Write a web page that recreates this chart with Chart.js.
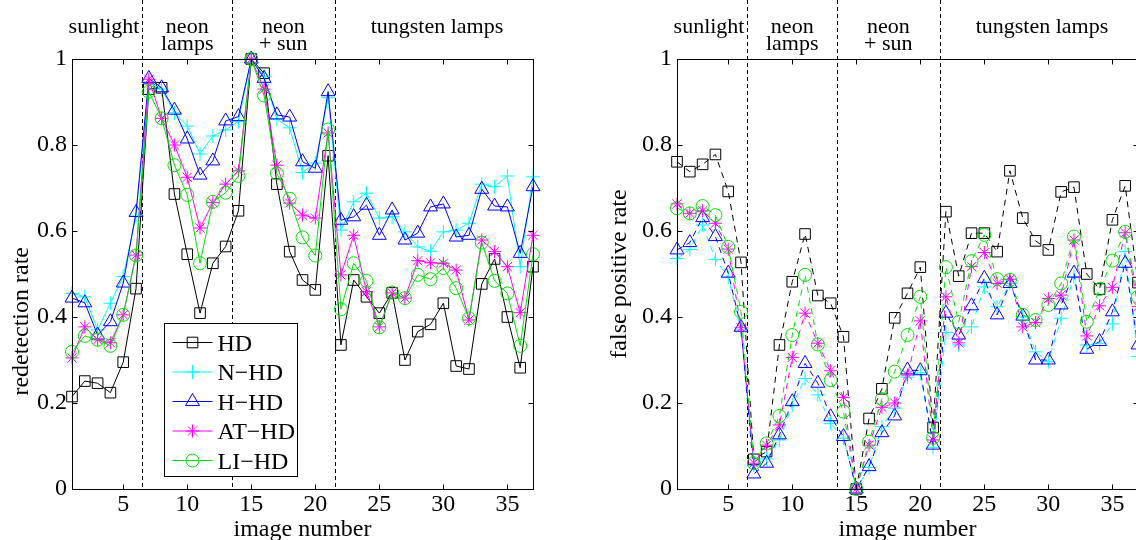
<!DOCTYPE html>
<html>
<head>
<meta charset="utf-8">
<script src="https://cdn.jsdelivr.net/npm/chart.js@4.4.0/dist/chart.umd.min.js"></script>
<style>
  html, body { margin: 0; padding: 0; background: #fff; overflow: hidden; }
  #wrap { position: relative; width: 1136px; height: 540px; overflow: hidden; }
  canvas { position: absolute; top: 0; }
  #chart-redet { left: 0; }
  #chart-fp { left: 600px; }
</style>
</head>
<body>
<div id="wrap">
  <canvas id="chart-redet" width="560" height="540" style="width:560px;height:540px"></canvas>
  <canvas id="chart-fp" width="560" height="540" style="width:560px;height:540px"></canvas>
</div>
<script>
// image numbers on the x axis
const imageNumbers = [1, 2, 3, 4, 5, 6, 7, 8, 9, 10, 11, 12, 13, 14, 15, 16, 17, 18, 19, 20,
  21, 22, 23, 24, 25, 26, 27, 28, 29, 30, 31, 32, 33, 34, 35, 36, 37];
const xTicks = [5, 10, 15, 20, 25, 30, 35];
const yTicks = [0, 0.2, 0.4, 0.6, 0.8, 1];

const seriesNames = ['HD', 'N\u2212HD', 'H\u2212HD', 'AT\u2212HD', 'LI\u2212HD'];

// lighting conditions, split at the dashed lines
const regionLabels = [['sunlight'], ['neon', 'lamps'], ['neon', '+ sun'], ['tungsten lamps']];
const regionBounds = [0.5, 6.5, 13.5, 21.5, 37.5];

// redetection rate (left)
const redetHD = [0.215, 0.251, 0.246, 0.224, 0.295, 0.466, 0.93, 0.933, 0.686, 0.546, 0.409, 0.525, 0.564, 0.647, 1.0, 0.967, 0.709, 0.552, 0.486, 0.463, 0.775, 0.335, 0.486, 0.447, 0.409, 0.456, 0.3, 0.366, 0.383, 0.432, 0.286, 0.279, 0.477, 0.535, 0.4, 0.282, 0.517];
const redetNHD = [0.455, 0.447, 0.37, 0.432, 0.494, 0.635, 0.945, 0.93, 0.875, 0.844, 0.779, 0.821, 0.835, 0.855, 1.0, 0.96, 0.86, 0.84, 0.736, 0.758, 0.91, 0.602, 0.668, 0.688, 0.63, 0.633, 0.598, 0.563, 0.553, 0.598, 0.602, 0.618, 0.709, 0.703, 0.728, 0.517, 0.726];
const redetHHD = [0.444, 0.433, 0.358, 0.389, 0.479, 0.643, 0.955, 0.933, 0.881, 0.814, 0.73, 0.763, 0.856, 0.866, 1.0, 0.955, 0.87, 0.865, 0.761, 0.746, 0.924, 0.625, 0.633, 0.66, 0.59, 0.649, 0.579, 0.595, 0.656, 0.663, 0.586, 0.59, 0.697, 0.658, 0.656, 0.548, 0.703];
const redetATHD = [0.305, 0.377, 0.347, 0.34, 0.405, 0.544, 0.953, 0.862, 0.8, 0.725, 0.607, 0.666, 0.709, 0.74, 1.0, 0.93, 0.753, 0.665, 0.637, 0.63, 0.828, 0.498, 0.59, 0.459, 0.377, 0.456, 0.444, 0.531, 0.526, 0.525, 0.509, 0.393, 0.579, 0.552, 0.517, 0.41, 0.59];
const redetLIHD = [0.319, 0.356, 0.347, 0.333, 0.405, 0.543, 0.924, 0.862, 0.753, 0.684, 0.525, 0.668, 0.689, 0.728, 1.0, 0.915, 0.734, 0.675, 0.585, 0.543, 0.836, 0.418, 0.525, 0.484, 0.376, 0.457, 0.444, 0.498, 0.488, 0.514, 0.467, 0.397, 0.573, 0.484, 0.455, 0.333, 0.546];

// false positive rate (right)
const fpHD = [0.761, 0.738, 0.755, 0.778, 0.692, 0.527, 0.069, 0.087, 0.335, 0.482, 0.593, 0.45, 0.432, 0.354, 0.0, 0.164, 0.233, 0.398, 0.455, 0.516, 0.143, 0.645, 0.495, 0.595, 0.595, 0.552, 0.74, 0.63, 0.577, 0.556, 0.691, 0.702, 0.5, 0.465, 0.626, 0.705, 0.48];
const fpNHD = [0.536, 0.557, 0.614, 0.534, 0.492, 0.37, 0.055, 0.07, 0.114, 0.195, 0.257, 0.219, 0.152, 0.118, 0.0, 0.05, 0.145, 0.188, 0.26, 0.27, 0.097, 0.364, 0.335, 0.377, 0.47, 0.424, 0.478, 0.4, 0.319, 0.296, 0.397, 0.494, 0.335, 0.339, 0.384, 0.552, 0.308];
const fpHHD = [0.556, 0.573, 0.631, 0.587, 0.502, 0.376, 0.035, 0.06, 0.126, 0.203, 0.292, 0.246, 0.168, 0.122, 0.0, 0.052, 0.131, 0.17, 0.277, 0.275, 0.102, 0.409, 0.358, 0.426, 0.49, 0.405, 0.478, 0.402, 0.3, 0.3, 0.428, 0.502, 0.325, 0.343, 0.412, 0.525, 0.335];
const fpATHD = [0.663, 0.641, 0.647, 0.618, 0.558, 0.375, 0.06, 0.102, 0.149, 0.306, 0.409, 0.339, 0.275, 0.213, 0.0, 0.102, 0.19, 0.2, 0.265, 0.391, 0.114, 0.447, 0.34, 0.517, 0.55, 0.478, 0.488, 0.377, 0.387, 0.443, 0.451, 0.579, 0.356, 0.426, 0.469, 0.596, 0.424];
const fpLIHD = [0.653, 0.641, 0.658, 0.637, 0.563, 0.412, 0.06, 0.106, 0.17, 0.358, 0.498, 0.336, 0.253, 0.18, 0.0, 0.11, 0.209, 0.273, 0.358, 0.447, 0.119, 0.516, 0.388, 0.53, 0.591, 0.488, 0.486, 0.405, 0.393, 0.428, 0.478, 0.587, 0.389, 0.465, 0.531, 0.598, 0.447];

const seriesColors = ['#000000', '#00ffff', '#0000ff', '#ff00ff', '#00e000'];
const seriesMarkers = ['rect', 'cross', 'triangle', 'star', 'circle'];
const markerRadius = [7.5, 7, 8, 6.5, 6.5];

const FONT = "'Liberation Serif', 'DejaVu Serif', serif";
const font24 = { family: FONT, size: 24, lineHeight: 1 };

// box, inward ticks, dashed separators, region labels, y title and (optional) legend
const framePlugin = {
  id: 'frame',
  beforeDatasetsDraw(chart) {
    const { ctx, chartArea: a, scales: { x } } = chart;
    ctx.save();
    ctx.strokeStyle = '#000';
    ctx.lineWidth = 1;
    ctx.setLineDash([4, 3]);
    regionBounds.slice(1, -1).forEach((b) => {
      const px = Math.round(x.getPixelForValue(b)) + 0.5;
      ctx.beginPath();
      ctx.moveTo(px, 0);
      ctx.lineTo(px, a.bottom);
      ctx.stroke();
    });
    ctx.restore();
  },
  afterDraw(chart, args, opts) {
    const { ctx, chartArea: a, scales: { x, y } } = chart;
    ctx.save();
    ctx.strokeStyle = '#000';
    ctx.lineWidth = 1;
    ctx.setLineDash([]);
    const L = Math.round(a.left) + 0.5, R = Math.round(a.right) + 0.5;
    const T = Math.round(a.top) + 0.5, B = Math.round(a.bottom) + 0.5;
    ctx.strokeRect(L, T, R - L, B - T);
    ctx.beginPath();
    xTicks.forEach((v) => {
      const px = Math.round(x.getPixelForValue(v)) + 0.5;
      ctx.moveTo(px, B); ctx.lineTo(px, B - 5);
      ctx.moveTo(px, T); ctx.lineTo(px, T + 5);
    });
    yTicks.forEach((v) => {
      const py = Math.round(y.getPixelForValue(v)) + 0.5;
      ctx.moveTo(L, py); ctx.lineTo(L + 5, py);
      ctx.moveTo(R, py); ctx.lineTo(R - 5, py);
    });
    ctx.stroke();

    // region labels above the plot
    ctx.fillStyle = '#000';
    ctx.font = '22px ' + FONT;
    ctx.textAlign = 'center';
    ctx.textBaseline = 'alphabetic';
    regionLabels.forEach((lines, i) => {
      const cx = x.getPixelForValue((regionBounds[i] + regionBounds[i + 1]) / 2);
      lines.forEach((t, k) => ctx.fillText(t, cx, 33 + k * 17));
    });

    // y axis title
    ctx.save();
    ctx.font = '24px ' + FONT;
    ctx.textBaseline = 'middle';
    ctx.translate(opts.titleX, y.getPixelForValue(opts.titleAt));
    ctx.rotate(-Math.PI / 2);
    ctx.fillText(opts.yTitle, 0, 0);
    ctx.restore();

    if (opts.legend) {
      const bx = Math.round(a.left + 92) + 0.5, by = Math.round(a.top + 264) + 0.5;
      const bw = 133, bh = 153;
      ctx.fillStyle = '#fff';
      ctx.fillRect(bx, by, bw, bh);
      ctx.strokeStyle = '#000';
      ctx.strokeRect(bx, by, bw, bh);
      ctx.font = '24px ' + FONT;
      ctx.textAlign = 'left';
      ctx.textBaseline = 'middle';
      chart.data.datasets.forEach((ds, i) => {
        const ry = by + 19 + i * 29.5;
        ctx.strokeStyle = ds.borderColor;
        ctx.setLineDash(ds.borderDash || []);
        ctx.beginPath();
        ctx.moveTo(bx + 8, ry);
        ctx.lineTo(bx + 48, ry);
        ctx.stroke();
        ctx.setLineDash([]);
        ctx.fillStyle = 'rgba(0,0,0,0)';
        Chart.helpers.drawPoint(ctx, {
          pointStyle: ds.pointStyle, radius: ds.pointRadius, rotation: 0, borderWidth: 1
        }, bx + 28, ry);
        ctx.fillStyle = '#000';
        ctx.fillText(ds.label, bx + 53, ry + 2);
      });
    }
    ctx.restore();
  }
};

function makeChart(canvasId, seriesValues, cfg) {
  const canvas = document.getElementById(canvasId);
  const datasets = seriesValues.map((vals, i) => ({
    label: seriesNames[i],
    data: imageNumbers.map((n, j) => ({ x: n, y: vals[j] })),
    borderColor: seriesColors[i],
    backgroundColor: 'rgba(0,0,0,0)',
    pointBackgroundColor: 'rgba(0,0,0,0)',
    pointBorderColor: seriesColors[i],
    pointStyle: seriesMarkers[i],
    pointRadius: markerRadius[i],
    pointBorderWidth: 1,
    borderWidth: 1,
    borderDash: cfg.dash,
    tension: 0,
    clip: false,
    order: seriesValues.length - i
  }));

  return new Chart(canvas.getContext('2d'), {
    type: 'line',
    data: { datasets },
    plugins: [framePlugin],
    options: {
      responsive: false,
      animation: false,
      devicePixelRatio: 1,
      layout: { padding: { left: 0, right: cfg.padRight, top: 59, bottom: 0 } },
      plugins: {
        legend: { display: false },
        tooltip: { enabled: false },
        frame: { legend: cfg.legend, yTitle: cfg.yTitle, titleX: cfg.titleX, titleAt: cfg.titleAt }
      },
      scales: {
        x: {
          type: 'linear', min: 1, max: 37,
          grid: { display: false, drawTicks: false },
          border: { display: false },
          afterBuildTicks: (s) => { s.ticks = xTicks.map((v) => ({ value: v })); },
          afterFit: (s) => { s.height = 51; },
          ticks: { font: font24, color: '#000', padding: 4, maxRotation: 0, autoSkip: false, callback: (v) => String(v) },
          title: { display: true, text: 'image number', font: font24, color: '#000', padding: { top: 0, bottom: -2 } }
        },
        y: {
          type: 'linear', min: 0, max: 1,
          grid: { display: false, drawTicks: false },
          border: { display: false },
          afterBuildTicks: (s) => { s.ticks = yTicks.map((v) => ({ value: v })); },
          afterFit: (s) => { s.width = cfg.yWidth; },
          ticks: { font: font24, color: '#000', padding: 5, callback: (v) => String(Math.round(v * 10) / 10) }
        }
      }
    }
  });
}

makeChart('chart-redet', [redetHD, redetNHD, redetHHD, redetATHD, redetLIHD],
  { yTitle: 'redetection rate', titleX: 22, titleAt: 0.39, yWidth: 72, padRight: 27, legend: true, dash: [] });
makeChart('chart-fp', [fpHD, fpNHD, fpHHD, fpATHD, fpLIHD],
  { yTitle: 'false positive rate', titleX: 20, titleAt: 0.5, yWidth: 77, padRight: 22, legend: false, dash: [6, 5] });
</script>
</body>
</html>
